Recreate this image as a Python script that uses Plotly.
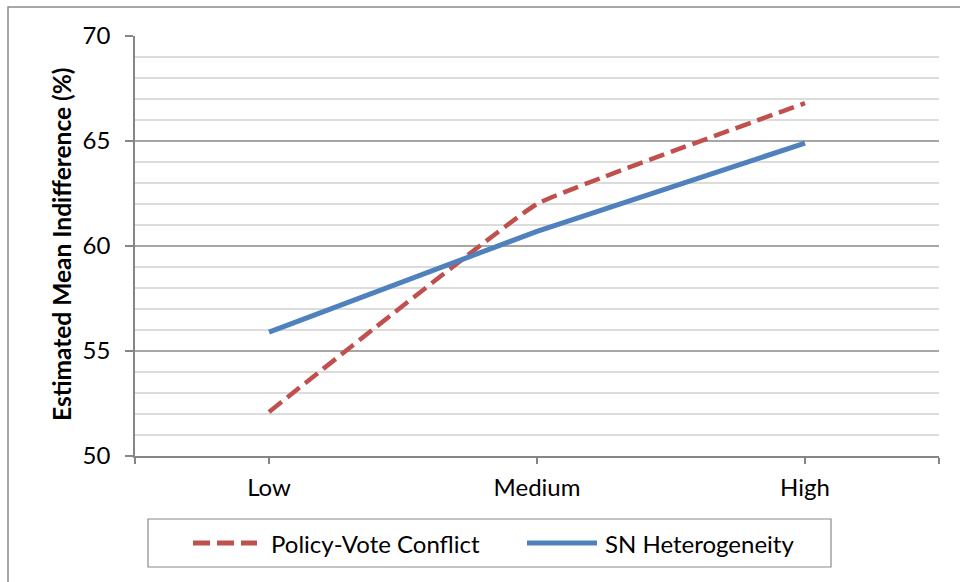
import plotly.graph_objects as go

# Category levels and estimated means (%)
levels = ["Low", "Medium", "High"]
policy_vote_conflict = [52.1, 62.0, 66.8]
sn_heterogeneity = [55.9, 60.7, 64.9]
series_names = ["Policy-Vote Conflict", "SN Heterogeneity"]
y_ticks = [50, 55, 60, 65, 70]

RED = "#C0504D"
BLUE = "#4F81BD"
AXIS = "#868686"
FONT = "Lato, Carlito, Calibri, sans-serif"

W, H = 960, 582
L, R, T, B = 135, 21, 36, 126
PW, PH = W - L - R, H - T - B


def px(x):
    return (x - L) / PW


def py(y):
    return (H - B - y) / PH


xpos = list(range(len(levels)))

fig = go.Figure()
fig.add_trace(go.Scatter(
    x=xpos, y=policy_vote_conflict, mode="lines", name=series_names[0],
    line=dict(color=RED, width=4.5, dash="16px,7px", shape="spline", smoothing=0.25),
    showlegend=False,
))
fig.add_trace(go.Scatter(
    x=xpos, y=sn_heterogeneity, mode="lines", name=series_names[1],
    line=dict(color=BLUE, width=5, shape="spline", smoothing=0.15),
    showlegend=False,
))

shapes = []
annotations = []

# outer chart border
shapes.append(dict(type="rect", xref="paper", yref="paper",
                   x0=px(8), x1=px(975), y0=py(7), y1=py(600),
                   line=dict(color="#8a8a8a", width=1.5), fillcolor="rgba(0,0,0,0)",
                   layer="below"))

# legend box with keys
shapes.append(dict(type="rect", xref="paper", yref="paper",
                   x0=px(148), x1=px(831), y0=py(519), y1=py(567),
                   line=dict(color="#8a8a8a", width=1.2), fillcolor="white"))
ly = py(543)
shapes.append(dict(type="line", xref="paper", yref="paper",
                   x0=px(193), x1=px(257), y0=ly, y1=ly,
                   line=dict(color=RED, width=5, dash="17px,7px")))
shapes.append(dict(type="line", xref="paper", yref="paper",
                   x0=px(527), x1=px(597), y0=ly, y1=ly,
                   line=dict(color=BLUE, width=5)))
annotations.append(dict(xref="paper", yref="paper", x=px(269), y=ly,
                        xanchor="left", yanchor="middle", showarrow=False,
                        text=series_names[0], font=dict(family=FONT, size=24, color="#000")))
annotations.append(dict(xref="paper", yref="paper", x=px(603), y=ly,
                        xanchor="left", yanchor="middle", showarrow=False,
                        text=series_names[1], font=dict(family=FONT, size=24, color="#000")))

# y-axis title
annotations.append(dict(xref="paper", yref="paper", x=px(61), y=py(244),
                        xanchor="center", yanchor="middle", showarrow=False,
                        textangle=-90, text="<b>Estimated Mean Indifference (%)</b>",
                        font=dict(family=FONT, size=24.5, color="#000")))

fig.update_layout(
    width=W, height=H,
    margin=dict(l=L, r=R, t=T, b=B, autoexpand=False),
    paper_bgcolor="white", plot_bgcolor="white",
    font=dict(family=FONT, size=24, color="#000"),
    shapes=shapes, annotations=annotations,
    showlegend=False,
)
fig.update_xaxes(
    range=[-0.5, len(levels) - 0.5],
    tickvals=[-0.5] + xpos + [len(levels) - 0.5],
    ticktext=[""] + levels + [""],
    showgrid=False, zeroline=False,
    showline=True, linecolor=AXIS, linewidth=1.5,
    ticks="outside", ticklen=6, tickcolor=AXIS, tickwidth=1.5,
    ticklabelstandoff=3,
    tickfont=dict(family=FONT, size=24, color="#000"),
)
fig.update_yaxes(
    range=[50, 70], tickvals=y_ticks,
    showgrid=True, gridcolor="#a6a6a6", gridwidth=1.5,
    minor=dict(dtick=1, showgrid=True, gridcolor="#dcdcdc", gridwidth=1.5),
    zeroline=False,
    showline=True, linecolor=AXIS, linewidth=1.5,
    ticks="outside", ticklen=8, tickcolor=AXIS, tickwidth=1.5,
    ticklabelstandoff=10,
    tickfont=dict(family=FONT, size=24, color="#000"),
)

fig.write_html("out.html")
